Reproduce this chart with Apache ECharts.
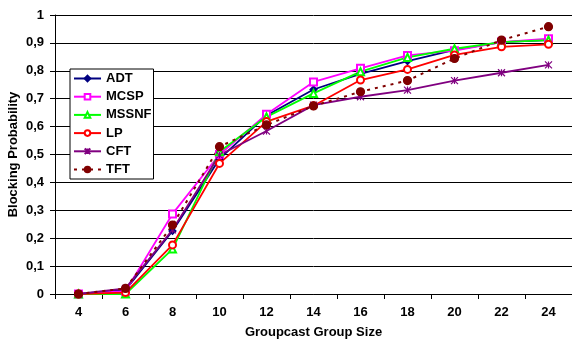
<!DOCTYPE html>
<html><head><meta charset="utf-8">
<script src="https://cdn.jsdelivr.net/npm/echarts@6/dist/echarts.min.js"></script>
<style>html,body{margin:0;padding:0;background:#fff}#c{width:572px;height:344px}</style>
</head><body><div id="c"></div>
<script>
var categories = ['4','6','8','10','12','14','16','18','20','22','24'];
var ADT   = [0, 0.015, 0.226, 0.484, 0.640, 0.733, 0.789, 0.835, 0.875, 0.903, 0.910];
var MCSP  = [0, 0.010, 0.287, 0.500, 0.644, 0.760, 0.809, 0.855, 0.872, 0.903, 0.915];
var MSSNF = [0, 0.000, 0.161, 0.510, 0.635, 0.719, 0.797, 0.848, 0.879, 0.903, 0.910];
var LP    = [0, 0.005, 0.176, 0.468, 0.618, 0.675, 0.767, 0.805, 0.857, 0.886, 0.895];
var CFT   = [0, 0.020, 0.230, 0.498, 0.584, 0.677, 0.707, 0.731, 0.765, 0.793, 0.821];
var TFT   = [0, 0.020, 0.247, 0.528, 0.606, 0.674, 0.725, 0.765, 0.844, 0.910, 0.958];
var yTicks = ['0','0,1','0,2','0,3','0,4','0,5','0,6','0,7','0,8','0,9','1'];

var font = 'Liberation Sans, Arial, sans-serif';
function mk(name, data, color, symbol, size, extra) {
  var s = {
    name: name, type: 'line', data: data, symbol: symbol, symbolSize: size,
    lineStyle: {color: color, width: 1.8},
    itemStyle: {color: color, borderColor: color, borderWidth: 1.2},
    emphasis: {disabled: true}, animation: false
  };
  if (extra) for (var k in extra) s[k] = extra[k];
  return s;
}
var chart = echarts.init(document.getElementById('c'));
chart.setOption({
  backgroundColor: '#fff',
  animation: false,
  grid: {left: 55, top: 15, right: 0, bottom: 50, containLabel: false, outerBoundsMode: 'none'},
  legend: {
    orient: 'vertical', left: 70, top: 69,
    backgroundColor: '#fff', borderColor: '#000', borderWidth: 1,
    padding: [3, 2, 3, 3], itemWidth: 27, itemHeight: 7, itemGap: 5.2,
    textStyle: {fontFamily: font, fontWeight: 'bold', fontSize: 13, color: '#000'},
    data: ['ADT','MCSP','MSSNF','LP','CFT','TFT']
  },
  xAxis: {
    type: 'category', data: categories, boundaryGap: true,
    name: 'Groupcast Group Size', nameLocation: 'middle', nameGap: 32, nameMoveOverlap: false,
    nameTextStyle: {fontFamily: font, fontWeight: 'bold', fontSize: 13, color: '#000'},
    axisLine: {lineStyle: {color: '#000', width: 1}},
    axisTick: {show: true, alignWithLabel: false, length: 5, lineStyle: {color: '#000'}},
    axisLabel: {fontFamily: font, fontWeight: 'bold', fontSize: 13, color: '#000', margin: 12},
    splitLine: {show: false}
  },
  yAxis: {
    type: 'value', min: 0, max: 1, interval: 0.1,
    name: 'Blocking Probability', nameLocation: 'middle', nameGap: 35, nameRotate: 90, nameMoveOverlap: false,
    nameTextStyle: {fontFamily: font, fontWeight: 'bold', fontSize: 13, color: '#000'},
    axisLine: {show: true, lineStyle: {color: '#000', width: 1}},
    axisTick: {show: true, length: 5, lineStyle: {color: '#000'}},
    axisLabel: {fontFamily: font, fontWeight: 'bold', fontSize: 13, color: '#000', margin: 11,
      formatter: function (v) { return yTicks[Math.round(v * 10)]; }},
    splitLine: {show: true, lineStyle: {color: '#000', width: 1}}
  },
  series: [
    mk('ADT', ADT, '#000080', 'diamond', 7),
    mk('MCSP', MCSP, '#FF00FF', 'emptyRect', 7),
    mk('MSSNF', MSSNF, '#00FF00', 'emptyTriangle', 7),
    mk('LP', LP, '#FF0000', 'emptyCircle', 7),
    mk('CFT', CFT, '#800080', 'path://M0,0L10,10M10,0L0,10M5,0L5,10', 7),
    mk('TFT', TFT, '#800000', 'circle', 8, {lineStyle: {color: '#800000', width: 2, type: [3, 5]}})
  ]
});
</script></body></html>
